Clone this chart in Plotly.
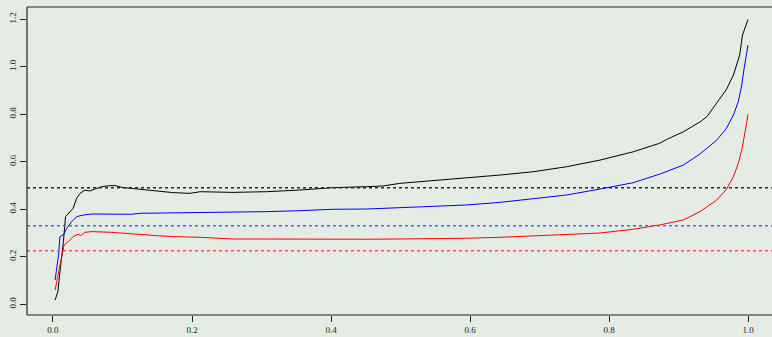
import plotly.graph_objects as go

# Black series
x_black = [0.003, 0.007, 0.010, 0.015, 0.018, 0.024, 0.029, 0.034, 0.039, 0.046,
           0.053, 0.060, 0.070, 0.080, 0.089, 0.099, 0.113, 0.125, 0.149, 0.173,
           0.197, 0.212, 0.259, 0.307, 0.355, 0.403, 0.451, 0.475, 0.499, 0.547,
           0.595, 0.643, 0.691, 0.739, 0.787, 0.835, 0.873, 0.883, 0.907, 0.931,
           0.941, 0.955, 0.969, 0.979, 0.986, 0.988, 0.992, 0.996, 1.000]
y_black = [0.018, 0.053, 0.137, 0.264, 0.369, 0.387, 0.404, 0.446, 0.467, 0.481,
           0.477, 0.485, 0.495, 0.499, 0.500, 0.492, 0.488, 0.484, 0.477, 0.470,
           0.467, 0.474, 0.471, 0.474, 0.481, 0.491, 0.495, 0.498, 0.509, 0.520,
           0.534, 0.544, 0.558, 0.579, 0.607, 0.642, 0.678, 0.694, 0.726, 0.768,
           0.790, 0.846, 0.905, 0.965, 1.028, 1.049, 1.133, 1.168, 1.199]

# Blue series
x_blue = [0.003, 0.008, 0.010, 0.015, 0.020, 0.027, 0.034, 0.044, 0.056, 0.084,
          0.113, 0.125, 0.212, 0.259, 0.307, 0.355, 0.403, 0.451, 0.499, 0.547,
          0.595, 0.643, 0.691, 0.739, 0.787, 0.835, 0.873, 0.907, 0.931, 0.955,
          0.969, 0.979, 0.986, 0.991, 0.994, 0.998, 1.000]
y_blue = [0.102, 0.207, 0.285, 0.292, 0.320, 0.348, 0.369, 0.376, 0.380, 0.380,
          0.379, 0.383, 0.386, 0.386, 0.390, 0.394, 0.400, 0.401, 0.407, 0.411,
          0.418, 0.429, 0.446, 0.460, 0.485, 0.512, 0.548, 0.586, 0.633, 0.691,
          0.741, 0.797, 0.853, 0.923, 0.986, 1.049, 1.091]

# Red series
x_red = [0.003, 0.010, 0.016, 0.022, 0.029, 0.036, 0.040, 0.046, 0.056, 0.084,
         0.113, 0.125, 0.149, 0.173, 0.212, 0.259, 0.307, 0.355, 0.403, 0.451,
         0.499, 0.547, 0.595, 0.643, 0.691, 0.739, 0.787, 0.835, 0.873, 0.907,
         0.931, 0.955, 0.969, 0.979, 0.986, 0.991, 0.996, 0.998, 1.000]
y_red = [0.060, 0.165, 0.250, 0.264, 0.285, 0.295, 0.289, 0.303, 0.306, 0.303,
         0.296, 0.295, 0.289, 0.285, 0.282, 0.275, 0.274, 0.274, 0.272, 0.274,
         0.275, 0.276, 0.278, 0.282, 0.287, 0.293, 0.300, 0.316, 0.334, 0.355,
         0.390, 0.439, 0.484, 0.537, 0.593, 0.649, 0.720, 0.762, 0.800]

# Reference levels (dotted horizontal lines)
ref_levels = [0.491, 0.331, 0.2255]
series_colors = ["black", "blue", "red"]
ref_colors = ["#2a2a2a", "#5a5aff", "#f05555"]

x_ticks = [0.0, 0.2, 0.4, 0.6, 0.8, 1.0]
x_tick_text = ["0.0", "0.2", "0.4", "0.6", "0.8", "1.0"]
y_ticks = [0.0, 0.2, 0.4, 0.6, 0.8, 1.0, 1.2]
y_tick_text = ["0.0", "0.2", "0.4", "0.6", "0.8", "1.0", "1.2"]

bg = "#e4ece3"
font = dict(family="Liberation Serif, Times New Roman, serif", size=9, color="#222")

fig = go.Figure()

for lvl, col in zip(ref_levels, ref_colors):
    fig.add_hline(y=lvl, line=dict(color=col, width=1.5, dash="dot"))

for xs, ys, col in [(x_black, y_black, series_colors[0]),
                    (x_blue, y_blue, series_colors[1]),
                    (x_red, y_red, series_colors[2])]:
    fig.add_trace(go.Scatter(x=xs, y=ys, mode="lines",
                             line=dict(color=col, width=1), showlegend=False,
                             hoverinfo="skip"))

# Box on top, left and bottom sides
for x0, y0, x1, y1 in [(0, 1, 1, 1), (0, 0, 0, 1), (0, 0, 1, 0)]:
    fig.add_shape(type="line", xref="paper", yref="paper", x0=x0, y0=y0,
                  x1=x1, y1=y1, line=dict(color="#222", width=1.2))

fig.update_layout(
    width=772, height=337,
    margin=dict(l=27, r=0, t=7, b=22),
    paper_bgcolor=bg, plot_bgcolor=bg,
    font=font,
    showlegend=False,
)
fig.update_xaxes(
    range=[-0.0374, 1.0345], showgrid=False, zeroline=False, showline=False,
    tickmode="array", tickvals=x_ticks, ticktext=x_tick_text,
    ticks="outside", ticklen=6, tickwidth=1, tickcolor="#222", tickfont=font,
)
fig.update_yaxes(
    range=[-0.045, 1.2513], showgrid=False, zeroline=False, showline=False,
    tickmode="array", tickvals=y_ticks, ticktext=y_tick_text,
    ticks="outside", ticklen=6, tickwidth=1, tickcolor="#222", tickfont=font,
    tickangle=-90,
)

fig.write_html("out.html")
